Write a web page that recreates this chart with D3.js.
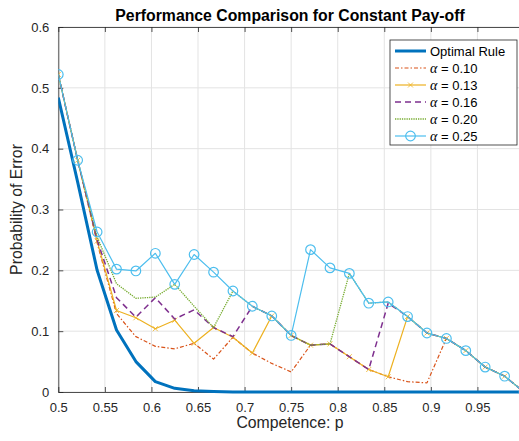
<!DOCTYPE html>
<html>
<head>
<meta charset="utf-8">
<script src="https://cdn.jsdelivr.net/npm/d3@7"></script>
<style>
  body { margin: 0; background: #fff; }
  svg { display: block; font-family: "Liberation Sans", Arial, sans-serif; }
</style>
</head>
<body>
<svg id="chart" width="519" height="441"></svg>
<script>
// competence values p (sample points)
const pValues = [0.5, 0.5208, 0.5417, 0.5625, 0.5833, 0.6042, 0.625, 0.6458, 0.6667, 0.6875,
  0.7083, 0.7292, 0.75, 0.7708, 0.7917, 0.8125, 0.8333, 0.8542, 0.875, 0.8958,
  0.9167, 0.9375, 0.9583, 0.9792, 1.0]

const optimalRule = [0.484, 0.345, 0.200, 0.102, 0.050, 0.017, 0.006, 0.002, 0.001, 0, 0, 0, 0,
  0, 0, 0, 0, 0, 0, 0, 0, 0, 0, 0, 0]
const alpha010 = [0.522, 0.381, 0.245, 0.129, 0.091, 0.075, 0.071, 0.080, 0.054, 0.090, 0.064, 0.047, 0.033,
  0.077, 0.079, 0.058, 0.037, 0.025, 0.017, 0.015, 0.088, 0.068, 0.041, 0.026, 0]
const alpha013 = [0.522, 0.381, 0.248, 0.134, 0.122, 0.104, 0.118, 0.080, 0.106, 0.090, 0.064, 0.125, 0.093,
  0.077, 0.079, 0.058, 0.037, 0.025, 0.124, 0.097, 0.088, 0.068, 0.041, 0.026, 0]
const alpha016 = [0.522, 0.381, 0.250, 0.155, 0.123, 0.155, 0.120, 0.135, 0.106, 0.091, 0.141, 0.125, 0.093,
  0.077, 0.079, 0.058, 0.037, 0.146, 0.124, 0.097, 0.088, 0.068, 0.041, 0.026, 0]
const alpha020 = [0.522, 0.381, 0.255, 0.178, 0.154, 0.156, 0.177, 0.141, 0.106, 0.166, 0.141, 0.125, 0.093,
  0.077, 0.079, 0.195, 0.146, 0.148, 0.124, 0.097, 0.088, 0.068, 0.041, 0.026, 0]
const alpha025 = [0.522, 0.381, 0.263, 0.202, 0.199, 0.228, 0.177, 0.226, 0.197, 0.166, 0.141, 0.125, 0.093,
  0.234, 0.204, 0.195, 0.146, 0.148, 0.124, 0.097, 0.088, 0.068, 0.041, 0.026, 0]

const legendNames = ["Optimal Rule", "0.10", "0.13", "0.16", "0.20", "0.25"]
const xTicks = [0.5, 0.55, 0.6, 0.65, 0.7, 0.75, 0.8, 0.85, 0.9, 0.95]
const yTicks = [0, 0.1, 0.2, 0.3, 0.4, 0.5, 0.6]

const series = [
  { name: legendNames[0], values: optimalRule, color: "#0072BD", width: 3, dash: null, marker: null },
  { name: legendNames[1], values: alpha010, color: "#D95319", width: 1.2, dash: "4,2,1.5,2", marker: null },
  { name: legendNames[2], values: alpha013, color: "#EDB120", width: 1.2, dash: null, marker: "x" },
  { name: legendNames[3], values: alpha016, color: "#7E2F8E", width: 1.5, dash: "6,4", marker: null },
  { name: legendNames[4], values: alpha020, color: "#77AC30", width: 1.3, dash: "1.3,1", marker: null },
  { name: legendNames[5], values: alpha025, color: "#4DBEEE", width: 1.2, dash: null, marker: "o" }
]

const svg = d3.select("#chart")
const plotLeft = 58.3, plotRight = 524, plotTop = 27, plotBottom = 392

const x = d3.scaleLinear().domain([0.5, 1]).range([plotLeft, plotRight])
const y = d3.scaleLinear().domain([0, 0.6]).range([plotBottom, plotTop])

// grid
const grid = svg.append("g").attr("stroke", "#e3e3e3").attr("stroke-width", 1)
grid.selectAll(".gx").data(xTicks).enter().append("line")
  .attr("x1", d => x(d)).attr("x2", d => x(d)).attr("y1", plotTop).attr("y2", plotBottom)
grid.selectAll(".gy").data(yTicks).enter().append("line")
  .attr("x1", plotLeft).attr("x2", plotRight).attr("y1", d => y(d)).attr("y2", d => y(d))

// axes (MATLAB style: ticks inside, box on)
const axisColor = "#262626"
const xAxis = svg.append("g").attr("transform", `translate(0,${plotBottom})`)
  .call(d3.axisBottom(x).tickValues(xTicks).tickSizeInner(-5).tickSizeOuter(0).tickPadding(11)
    .tickFormat(d => d3.format("")(d)))
const xAxisTop = svg.append("g").attr("transform", `translate(0,${plotTop})`)
  .call(d3.axisTop(x).tickValues(xTicks).tickSizeInner(-5).tickSizeOuter(0).tickFormat(""))
const yAxis = svg.append("g").attr("transform", `translate(${plotLeft},0)`)
  .call(d3.axisLeft(y).tickValues(yTicks).tickSizeInner(-5).tickSizeOuter(0).tickPadding(9)
    .tickFormat(d => d3.format("")(d)))

;[xAxis, xAxisTop, yAxis].forEach(a => {
  a.selectAll("path").attr("stroke", axisColor).attr("stroke-width", 0.8)
  a.selectAll("line").attr("stroke", axisColor).attr("stroke-width", 0.8)
  a.selectAll("text").attr("fill", axisColor).style("font-size", "13px")
    .style("font-family", "'Liberation Sans', Arial, sans-serif")
})

// data lines
svg.append("clipPath").attr("id", "plotclip")
  .append("rect").attr("x", plotLeft).attr("y", plotTop - 6)
  .attr("width", plotRight - plotLeft + 6).attr("height", plotBottom - plotTop + 12)

const plot = svg.append("g").attr("clip-path", "url(#plotclip)")
const line = d3.line().x((d, i) => x(pValues[i])).y(d => y(d))

series.forEach(s => {
  plot.append("path")
    .datum(s.values)
    .attr("d", line)
    .attr("fill", "none")
    .attr("stroke", s.color)
    .attr("stroke-width", s.width)
    .attr("stroke-dasharray", s.dash)
    .attr("stroke-linejoin", "round")

  if (s.marker === "o") {
    plot.selectAll(null).data(s.values).enter().append("circle")
      .attr("cx", (d, i) => x(pValues[i])).attr("cy", d => y(d)).attr("r", 4.8)
      .attr("fill", "none").attr("stroke", s.color).attr("stroke-width", 1.2)
  }
  if (s.marker === "x") {
    plot.selectAll(null).data(s.values).enter().append("path")
      .attr("d", (d, i) => {
        const cx = x(pValues[i]), cy = y(d), r = 2.5
        return `M${cx - r},${cy - r}L${cx + r},${cy + r}M${cx - r},${cy + r}L${cx + r},${cy - r}`
      })
      .attr("stroke", s.color).attr("stroke-width", 0.8)
  }
})

// title and labels
svg.append("text").attr("x", 290).attr("y", 21).attr("text-anchor", "middle")
  .style("font-size", "15.8px").style("font-weight", "bold").attr("fill", "#000")
  .text("Performance Comparison for Constant Pay-off")

svg.append("text").attr("x", 290).attr("y", 428).attr("text-anchor", "middle")
  .style("font-size", "15.8px").attr("fill", axisColor)
  .text("Competence: p")

svg.append("text").attr("transform", `translate(22,${(plotTop + plotBottom) / 2}) rotate(-90)`)
  .attr("text-anchor", "middle").style("font-size", "15.8px").attr("fill", axisColor)
  .text("Probability of Error")

// legend
const legend = svg.append("g")
legend.append("rect").attr("x", 390).attr("y", 40).attr("width", 127).attr("height", 105)
  .attr("fill", "#fff").attr("stroke", axisColor).attr("stroke-width", 0.8)

series.forEach((s, i) => {
  const ry = 51 + i * 17
  const row = legend.append("g")
  row.append("line").attr("x1", 395).attr("x2", 426).attr("y1", ry).attr("y2", ry)
    .attr("stroke", s.color).attr("stroke-width", s.width).attr("stroke-dasharray", s.dash)
  if (s.marker === "o") {
    row.append("circle").attr("cx", 410.5).attr("cy", ry).attr("r", 4.8)
      .attr("fill", "none").attr("stroke", s.color).attr("stroke-width", 1.2)
  }
  if (s.marker === "x") {
    row.append("path").attr("d", `M408,${ry - 2.5}L413,${ry + 2.5}M408,${ry + 2.5}L413,${ry - 2.5}`)
      .attr("stroke", s.color).attr("stroke-width", 0.8)
  }
  const t = row.append("text").attr("x", 430).attr("y", ry + 4.5).style("font-size", "13px").attr("fill", "#000")
  if (i === 0) {
    t.text(s.name)
  } else {
    t.append("tspan").style("font-family", "'Liberation Serif', 'Times New Roman', serif")
      .style("font-style", "italic").style("font-size", "14px").text("α")
    t.append("tspan").text(" = " + s.name)
  }
})
</script>
</body>
</html>
